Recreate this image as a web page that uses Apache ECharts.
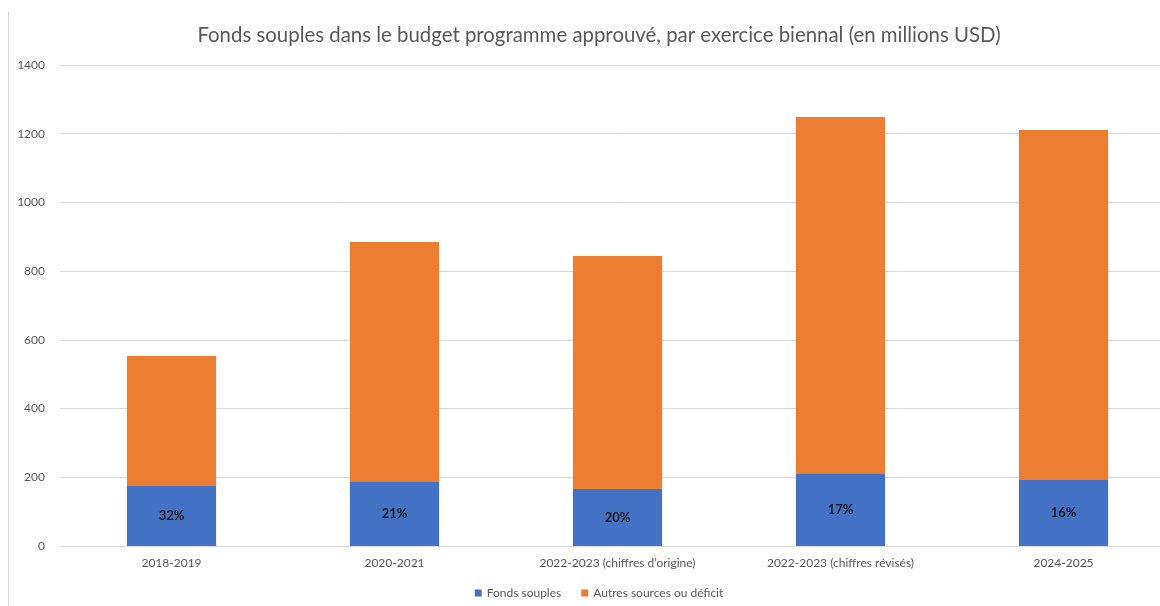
<!DOCTYPE html>
<html>
<head>
<meta charset="utf-8">
<script src="https://cdn.jsdelivr.net/npm/echarts@6/dist/echarts.min.js"></script>
<style>
  html, body { margin: 0; padding: 0; background: #fff; overflow: hidden; }
  /* wider than the window: the plot area runs past the right edge like the original crop */
  #chart { width: 1198px; height: 606px; }
</style>
</head>
<body>
<div id="chart"></div>
<script>
// periods on the x axis
const periods = ['2018-2019', '2020-2021', '2022-2023 (chiffres d\u2019origine)', '2022-2023 (chiffres r\u00e9vis\u00e9s)', '2024-2025'];
// millions USD
const fondsSouples = [175, 186, 166, 212, 192];
const autresSources = [378, 699, 678, 1037, 1019];
// share labels printed in the blue bars
const partLabels = ['32%', '21%', '20%', '17%', '16%'];

const chart = echarts.init(document.getElementById('chart'));
const font = 'Lato, "Liberation Sans", sans-serif';

const option = {
    textStyle: { fontFamily: font },
    title: {
        text: 'Fonds souples dans le budget programme approuv\u00e9, par exercice biennal (en millions USD)',
        left: 'center',
        top: 20,
        textStyle: { fontFamily: font, fontSize: 20.4, fontWeight: 'normal', color: '#595959' }
    },
    legend: {
        bottom: 2,
        left: 'center',
        itemWidth: 7,
        itemHeight: 7,
        itemGap: 20,
        icon: 'rect',
        textStyle: { fontFamily: font, fontSize: 12, color: '#595959' }
    },
    grid: {
        left: 60,
        right: 23,
        top: 65,
        bottom: 60
    },
    xAxis: {
        type: 'category',
        data: periods,
        axisLine: { lineStyle: { color: '#d9d9d9' } },
        axisTick: { show: false },
        axisLabel: { color: '#595959', fontSize: 12, margin: 11, fontFamily: font }
    },
    yAxis: {
        type: 'value',
        min: 0,
        max: 1400,
        interval: 200,
        axisLine: { show: false },
        axisTick: { show: false },
        splitLine: { lineStyle: { color: '#d9d9d9' } },
        axisLabel: {
            color: '#595959',
            fontSize: 12,
            margin: 15,
            fontFamily: font,
            formatter: function (v) { return String(v); }
        }
    },
    graphic: [{
        type: 'line',
        shape: { x1: 8.5, y1: 12, x2: 8.5, y2: 606 },
        style: { stroke: '#d9d9d9', lineWidth: 1 }
    }],
    series: [
        {
            name: 'Fonds souples',
            type: 'bar',
            stack: 'total',
            barWidth: '40%',
            data: fondsSouples,
            itemStyle: { color: '#4472C4' },
            label: {
                show: true,
                position: 'inside',
                formatter: function (p) { return partLabels[p.dataIndex]; },
                color: '#1a1a1a',
                fontWeight: 'bold',
                fontSize: 13,
                fontFamily: font
            }
        },
        {
            name: 'Autres sources ou d\u00e9ficit',
            type: 'bar',
            stack: 'total',
            barWidth: '40%',
            data: autresSources,
            itemStyle: { color: '#ED7D31' }
        }
    ]
};
chart.setOption(option);
window.addEventListener('resize', function () {
    chart.resize();
});
</script>
</body>
</html>
